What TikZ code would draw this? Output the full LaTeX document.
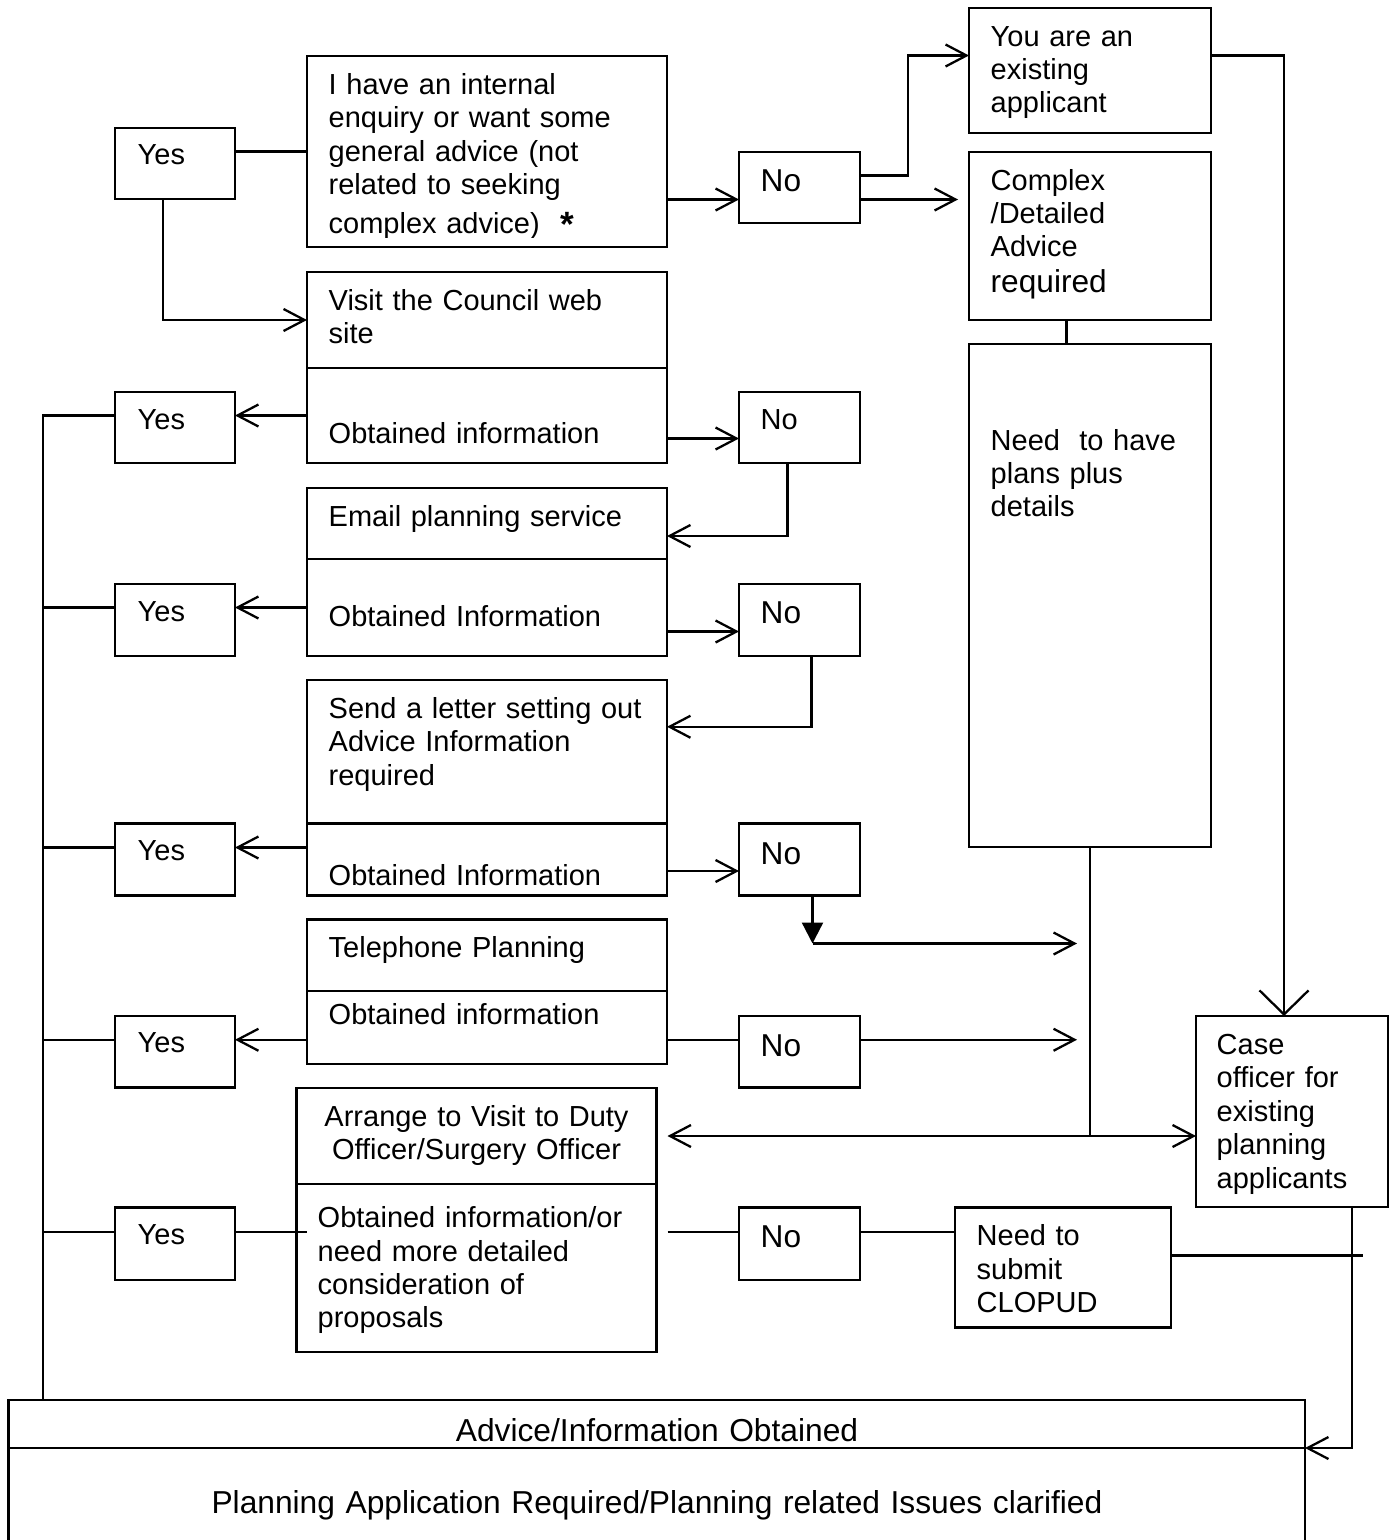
\documentclass[tikz,border=0pt]{standalone}
\usepackage{fontspec}
\setmainfont{Liberation Sans}
\usetikzlibrary{arrows.meta,calc,fit}
\newcommand\fa{\fontsize{8.25pt}{9.53pt}\selectfont}
\newcommand\fno{\fontsize{9pt}{9.53pt}\selectfont}
\newcommand\fbig{\fontsize{9.03pt}{9.53pt}\selectfont}
\newcommand\bx[5]{\node[box, fit={(#2,#3) (#4,#5)}] (#1) {};}
\begin{document}
\begin{tikzpicture}[x=0.1mm,y=-0.1mm,
  lw/.style={line width=0.65pt},
  box/.style={draw, lw, inner sep=0pt, outer sep=0pt, rectangle},
  lbl/.style={anchor=base west, inner sep=0pt, text width=#1, align=left, font=\fa},
  lbl/.default=60mm,
  clbl/.style={anchor=base, inner sep=0pt, text width=#1, align=center, font=\fa},
  clbl/.default=60mm,
  arr/.style={lw, -{Straight Barb[length=2.1mm,width=2.2mm]}},
  arrtwo/.style={lw, {Straight Barb[length=2.1mm,width=2.2mm]}-{Straight Barb[length=2.1mm,width=2.2mm]}},
  arrbig/.style={lw, -{Straight Barb[length=2.4mm,width=4.9mm]}},
  arrfill/.style={lw, -{Triangle[length=2.1mm,width=2.1mm]}}
]
\useasboundingbox (0,0) rectangle (1395,1540);
% ---------- boxes ----------
\bx{Yes1}{115}{128}{235}{199}
\bx{A}{307}{56}{667}{247}
\bx{No1}{739}{152}{860}{223}
\bx{You}{969}{8}{1211}{133}
\bx{Cplx}{969}{152}{1211}{320}
\bx{Need}{969}{344}{1211}{847}
\bx{VisitT}{307}{272}{667}{368}
\bx{VisitB}{307}{368}{667}{463}
\bx{Yes2}{115}{392}{235}{463}
\bx{No2}{739}{392}{860}{463}
\bx{EmailT}{307}{488}{667}{559}
\bx{EmailB}{307}{559}{667}{656}
\bx{Yes3}{115}{584}{235}{656}
\bx{No3}{739}{584}{860}{656}
\bx{LetterT}{307}{680}{667}{823.5}
\bx{LetterB}{307}{823.5}{667}{895.5}
\bx{Yes4}{115}{823.5}{235}{895.5}
\bx{No4}{739}{823.5}{860}{895.5}
\bx{TeleT}{307}{919.5}{667}{991}
\bx{TeleB}{307}{991}{667}{1064}
\bx{Yes5}{115}{1016}{235}{1087.5}
\bx{No5}{739}{1016}{860}{1087.5}
\bx{Case}{1196}{1016}{1388}{1207}
\bx{ArrT}{296.5}{1088}{656.5}{1184}
\bx{ArrB}{296.5}{1184}{656.5}{1352}
\bx{Yes6}{115}{1207.5}{235}{1280}
\bx{No6}{739}{1207.5}{860}{1280}
\bx{Clop}{955}{1207.5}{1171}{1327.5}
\bx{BotT}{8.5}{1400}{1305}{1448}
\bx{BotB}{8.5}{1448}{1305}{1600}
% ---------- texts ----------
\node[lbl] (tYes1) at (137,164.7) {Yes};
\node[lbl] (tYes2) at (137,429) {Yes};
\node[lbl] (tYes3) at (137,621) {Yes};
\node[lbl] (tYes4) at (137,860) {Yes};
\node[lbl] (tYes5) at (137,1052.7) {Yes};
\node[lbl] (tYes6) at (137,1244) {Yes};
\node[lbl, font=\fno] (tNo1) at (760,191.7) {No};
\node[lbl] (tNo2) at (760,429.3) {No};
\node[lbl, font=\fno] (tNo3) at (760,623.3) {No};
\node[lbl, font=\fno] (tNo4) at (760,864) {No};
\node[lbl, font=\fno] (tNo5) at (760,1056) {No};
\node[lbl, font=\fno] (tNo6) at (760,1247.3) {No};
\begin{scope}
\clip (307,56) rectangle (667,237);
\node[lbl] (tA) at (328,94.3) {I have an internal\\enquiry or want some\\general advice (not\\related to seeking\\[0.57mm]complex advice)};
\end{scope}
\node[anchor=base, inner sep=0pt, font=\bfseries\fontsize{10pt}{12pt}\selectfont] (tStar) at (567.5,236.7) {*};
\node[lbl] (tYou) at (990,46) {You are an\\existing\\applicant};
\node[lbl] (tCplx) at (990,190) {Complex\\/Detailed\\Advice\\[0.2mm]{\fno required}};
\node[lbl] (tNeed) at (990,450) {Need\ \ to have\\plans plus\\details};
\node[lbl] (tVisitT) at (328,310) {Visit the Council web\\site};
\node[lbl] (tVisitB) at (328,443.5) {Obtained information};
\node[lbl] (tEmailT) at (328,526) {Email planning service};
\node[lbl] (tEmailB) at (328,626.7) {Obtained Information};
\node[lbl] (tLetterT) at (328,718.3) {Send a letter setting out\\Advice Information\\required};
\begin{scope}
\clip (307,823.5) rectangle (667,885);
\node[lbl] (tLetterB) at (328,885.8) {Obtained Information};
\end{scope}
\node[lbl] (tTeleT) at (328,957.3) {Telephone Planning};
\node[lbl] (tTeleB) at (328,1024) {Obtained information};
\node[clbl] (tArrT) at (476.5,1126) {Arrange to Visit to Duty\\Officer/Surgery Officer};
\node[lbl] (tArrB) at (317,1227.5) {Obtained information/or\\need more detailed\\consideration of\\proposals};
\node[lbl] (tClop) at (976,1245.7) {Need to\\submit\\CLOPUD};
\node[lbl] (tCase) at (1216,1054.3) {Case\\officer for\\existing\\planning\\applicants};
\node[clbl=120mm, font=\fbig] (tBotT) at (657,1441) {Advice/Information Obtained};
\node[clbl=120mm, font=\fbig] (tBotB) at (657,1513.3) {Planning Application Required/Planning related Issues clarified};
% ---------- connectors ----------
\coordinate (spTop) at (43,0);
\draw[lw] (Yes1.east |- A.west) -- (A.west);
\draw[arr] ($(Yes1.south)+(-12,0)$) |- (VisitT.west);
\coordinate (n1a) at ($(No1.west)+(0,12)$);
\draw[arr] (A.east |- n1a) -- (n1a);
\coordinate (n1b) at ($(No1.east)+(0,-12)$);
\coordinate (youin) at ($(You.west)+(0,-15)$);
\draw[arr] (n1b) -- ($(n1b)+(48,0)$) |- (youin);
\draw[arr] (No1.east |- n1a) -- ($(Cplx.west |- n1a)+(-11,0)$);
\draw[lw] ($(Cplx.south)+(-23.5,0)$) -- ($(Need.north)+(-23.5,0)$);
\coordinate (youout) at ($(You.east)+(0,-15)$);
\draw[arrbig] (youout) -| ($(Case.north)+(-8,0)$);
% web site row
\draw[arr] (VisitB.west) -- (VisitB.west -| Yes2.east);
\draw[lw] (Yes2.west |- VisitB.west) -- (spTop |- VisitB.west) -- (spTop |- BotT.north);
\coordinate (n2a) at ($(No2.west)+(0,11)$);
\draw[arr] (VisitB.east |- n2a) -- (n2a);
\draw[arr] ($(No2.south)+(-12,0)$) |- ($(EmailT.east)+(0,12.5)$);
% email row
\draw[arr] (EmailB.west) -- (EmailB.west -| Yes3.east);
\draw[lw] (Yes3.west |- EmailB.west) -- (spTop |- EmailB.west);
\coordinate (n3a) at ($(No3.west)+(0,11.5)$);
\draw[arr] (EmailB.east |- n3a) -- (n3a);
\draw[arr] ($(No3.south)+(12,0)$) |- ($(LetterT.east)+(0,-25)$);
% letter row
\coordinate (y4) at ($(Yes4.east)+(0,-12)$);
\draw[arr] (LetterB.west |- y4) -- (y4);
\draw[lw] (Yes4.west |- y4) -- (spTop |- y4);
\coordinate (n4a) at ($(No4.west)+(0,11.5)$);
\draw[arr] (LetterB.east |- n4a) -- (n4a);
\coordinate (j1) at ($(No4.south)+(13,48)$);
\draw[arrfill] ($(No4.south)+(13,0)$) -- (j1);
\draw[arr] (j1) -- ($(j1 -| Need.south)+(-13,0)$);
% telephone row
\coordinate (t5) at ($(Yes5.east)+(0,-12)$);
\draw[arr] (TeleB.west |- t5) -- (t5);
\draw[lw] (Yes5.west |- t5) -- (spTop |- t5);
\draw[lw] (TeleB.east |- t5) -- (No5.west |- t5);
\draw[arr] (No5.east |- t5) -- ($(t5 -| Need.south)+(-13,0)$);
% duty officer
\coordinate (dbl) at ($(Case.west)+(0,24.5)$);
\draw[lw] (Need.south) -- (Need.south |- dbl);
\draw[arrtwo] ($(ArrT.east |- dbl)+(11,0)$) -- (dbl);
\coordinate (y6) at ($(Yes6.west)+(0,-11.5)$);
\draw[lw] (spTop |- y6) -- (y6);
\draw[lw] (Yes6.east |- y6) -- ($(ArrB.west |- y6)+(10,0)$);
\draw[lw] ($(ArrB.east |- y6)+(11,0)$) -- (No6.west |- y6);
\draw[lw] (No6.east |- y6) -- (Clop.west |- y6);
\coordinate (c7) at ($(Clop.east)+(0,-12)$);
\coordinate (cs) at ($(Case.south)+(60.3,0)$);
\draw[lw] (c7) -- ($(c7 -| cs)+(11,0)$);
\draw[arr] (cs) |- (BotT.south east);
\end{tikzpicture}
\end{document}
